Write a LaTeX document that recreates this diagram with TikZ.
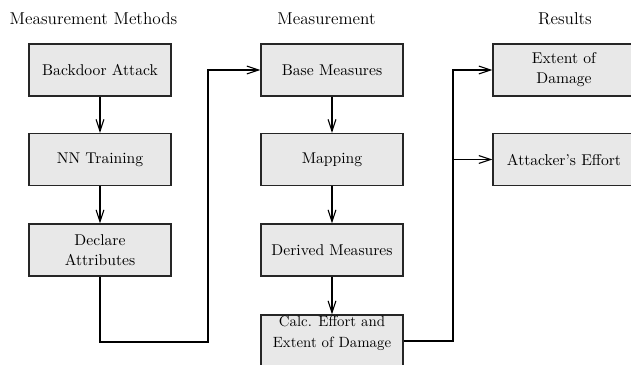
\documentclass[tikz,border=0pt]{standalone}
\usetikzlibrary{arrows.meta}
\begin{document}
\begin{tikzpicture}[x=0.64pt,y=-0.64pt,
  box/.style={draw=black!85, line width=0.85pt, fill=black!9, minimum width=90.9pt, minimum height=33.3pt, inner sep=0pt, align=center, font=\fontsize{10}{12.8}\selectfont},
  conn/.style={draw=black, line width=0.7pt, -{Straight Barb[length=7.5pt,width=5pt]}},
  title/.style={font=\fontsize{11}{13}\selectfont, anchor=base}]
\useasboundingbox (0,0) rectangle (631,364);
\clip (0,0) rectangle (631,364);
\node[title] (t1) at (93.5,24) {Measurement Methods};
\node[title] (t2) at (326.5,24) {Measurement};
\node[title] (t3) at (565,24) {Results};
\node[box] (ba) at (100,70) {Backdoor Attack};
\node[box] (nn) at (100,159.5) {NN Training};
\node[box] (da) at (100,250) {Declare\\Attributes};
\node[box] (bm) at (332,70) {Base Measures};
\node[box] (mp) at (332,159.5) {Mapping};
\node[box] (dm) at (332,250) {Derived Measures};
\node[box] (cb) at (332,341) {};
\node[align=center, inner sep=0pt, font=\fontsize{9.5}{13.4}\selectfont] (ct) at (332,333) {Calc. Effort and\\Extent of Damage};
\node[box] (ed) at (564,70) {Extent of\\Damage};
\node[box] (ae) at (564,159.5) {Attacker's Effort};
\draw[conn] (ba) -- (nn);
\draw[conn] (nn) -- (da);
\coordinate (j1) at (208,342);
\draw[conn] (da.south) |- (j1) |- (bm.west);
\draw[conn] (bm) -- (mp);
\draw[conn] (mp) -- (dm);
\draw[conn] (dm) -- (cb);
\coordinate (j2) at (453,341);
\draw[conn] (cb.east) -- (j2) |- (ed.west);
\draw[conn] (j2 |- ae.west) -- (ae.west);
\end{tikzpicture}
\end{document}
